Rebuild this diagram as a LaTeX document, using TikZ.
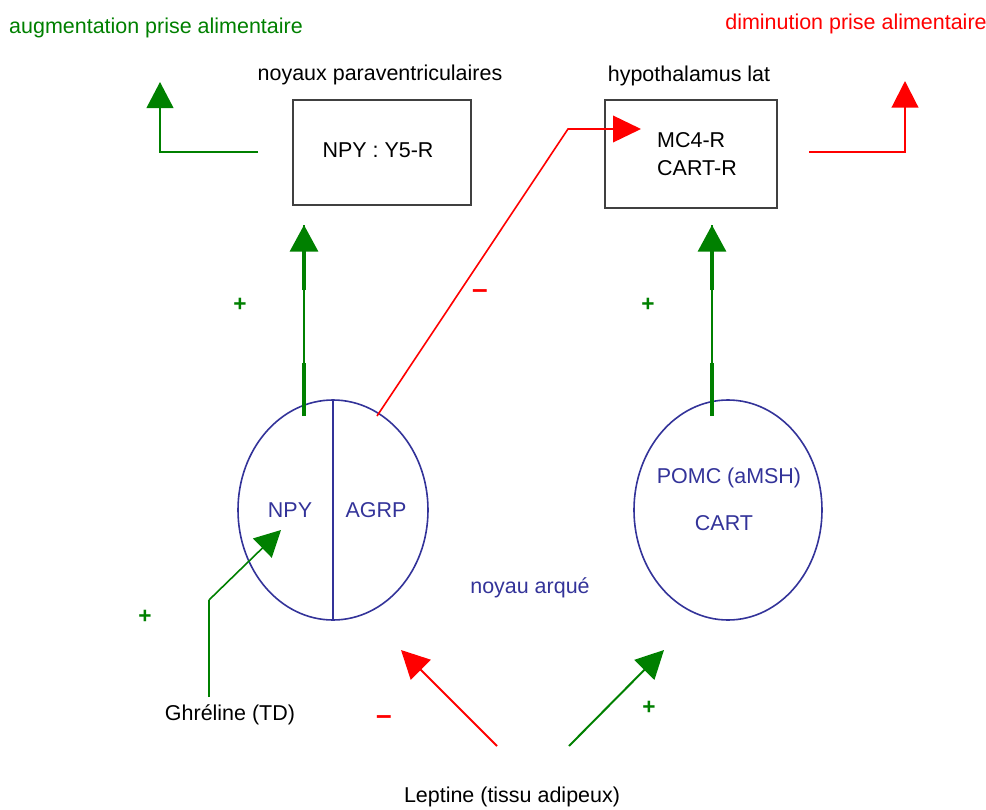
\documentclass[tikz,border=0pt]{standalone}
\usepackage{fontspec}
\setmainfont{Liberation Sans}
\usetikzlibrary{arrows.meta,shapes.geometric}
\definecolor{gr}{RGB}{0,128,0}
\definecolor{rd}{RGB}{255,0,0}
\definecolor{nv}{RGB}{51,51,153}
\definecolor{tx}{RGB}{0,0,0}
\begin{document}
\begin{tikzpicture}[x=0.75pt,y=-0.75pt,
  lbl/.style={font=\fontsize{16.1}{18}\selectfont, inner sep=0pt, text=tx},
  glbl/.style={lbl, text=gr},
  rlbl/.style={lbl, text=rd},
  nlbl/.style={lbl, text=nv},
  signg/.style={font=\fontsize{17}{18}\selectfont\bfseries, inner sep=0pt, text=gr},
  signr/.style={font=\fontsize{21}{18}\selectfont\bfseries, inner sep=0pt, text=rd},
  boxn/.style={draw=black!75, line width=1.3pt, inner sep=0pt},
  ell/.style={ellipse, draw=nv, line width=1.2pt, minimum width=142.5pt, minimum height=165pt, inner sep=0pt},
  bigtip/.style={-{Triangle[length=20pt,width=21pt]}},
  gthick/.style={draw=gr, line width=2.4pt},
  gthin/.style={draw=gr, line width=0.8pt},
]
\useasboundingbox (0,0) rectangle (986,810);

% titles
\node[glbl] (tg) at (156,28) {augmentation prise alimentaire};
\node[rlbl] (tr) at (856,24) {diminution prise alimentaire};
\node[lbl] (tpv) at (380,75) {noyaux paraventriculaires};
\node[lbl] (thl) at (689,76) {hypothalamus lat};

% boxes
\node[boxn, minimum width=133.5pt, minimum height=78.75pt] (b1) at (382,152.5) {};
\node[lbl] (b1t) at (378,150) {NPY : Y5-R};
\node[boxn, minimum width=129pt, minimum height=81pt] (b2) at (691,154) {};
\node[lbl, align=left] (b2t) at (697,154) {MC4-R\\[3pt]CART-R};

% ellipses
\node[ell] (e1) at (333,510) {};
\draw[nv, line width=1.2pt] (e1.north) -- (e1.south);
\node[nlbl] (npy) at (290,510) {NPY};
\node[nlbl] (agrp) at (376,510) {AGRP};
\node[ell, minimum width=141pt] (e2) at (728,510) {};
\node[nlbl] (pomc) at (729,478) {POMC (aMSH)};
\node[nlbl] (cart) at (724,523) {CART};
\node[nlbl] (arq) at (530,588) {noyau arqué};

% bottom labels
\node[lbl] (ghr) at (230,715) {Ghréline (TD)};
\node[lbl] (lep) at (512,797) {Leptine (tissu adipeux)};

% signs
\node[signg] (p1) at (240,305) {+};
\node[signg] (p2) at (648,305) {+};
\node[signg] (p3) at (145,617) {+};
\node[signg] (p4) at (649,708) {+};
\node[signr] (m1) at (480,294) {–};
\node[signr] (m2) at (384,720) {–};

% coordinates
\coordinate (c1a) at (258,152);
\coordinate (c1b) at (160,152);
\coordinate (c1c) at (160,82);
\coordinate (c2a) at (809,152);
\coordinate (c2b) at (905,152);
\coordinate (c2c) at (905,81);

\coordinate (v1a) at (304,416);
\coordinate (v1b) at (304,363);
\coordinate (v1c) at (304,290);
\coordinate (v1d) at (304,225);
\coordinate (v2a) at (712,416);
\coordinate (v2b) at (712,363);
\coordinate (v2c) at (712,290);
\coordinate (v2d) at (712,225);

\coordinate (ra) at (377,416);
\coordinate (rb) at (568,129);
\coordinate (rc) at (641,129);

\coordinate (ga) at (209,697);
\coordinate (gb) at (209,674);
\coordinate (gc) at (209,600);
\coordinate (gd) at (281,530);

\coordinate (la) at (497,746);
\coordinate (lb) at (401,650);
\coordinate (lc) at (569,746);
\coordinate (ld) at (664,650);

% elbow arrows
\draw[gr, line width=1.6pt, -{Triangle[length=19.5pt,width=20pt]}] (c1a) -- (c1b) -- (c1c);
\draw[rd, line width=1.6pt, -{Triangle[length=20pt,width=20pt]}] (c2a) -- (c2b) -- (c2c);

% vertical green arrows
\draw[gthin] (v1a) -- (v1d);
\draw[gthick] (v1a) -- (v1b);
\draw[gthick, bigtip, gr] (v1c) -- (v1d);
\draw[gthin] (v2a) -- (v2d);
\draw[gthick] (v2a) -- (v2b);
\draw[gthick, bigtip, gr] (v2c) -- (v2d);

% red inhibition to MC4-R
\draw[rd, line width=1.2pt, -{Triangle[length=21pt,width=20pt]}] (ra) -- (rb) -- (rc);

% ghreline
\draw[gr, line width=0.9pt] (gb) -- (gc);
\draw[gr, line width=1.5pt] (ga) -- (gb);
\draw[gr, line width=1.2pt, -{Triangle[length=19.5pt,width=20pt]}] (gc) -- (gd);

% leptine
\draw[rd, line width=1.5pt, -{Triangle[length=21pt,width=21pt]}] (la) -- (lb);
\draw[gr, line width=1.5pt, -{Triangle[length=21pt,width=21pt]}] (lc) -- (ld);
\end{tikzpicture}
\end{document}
